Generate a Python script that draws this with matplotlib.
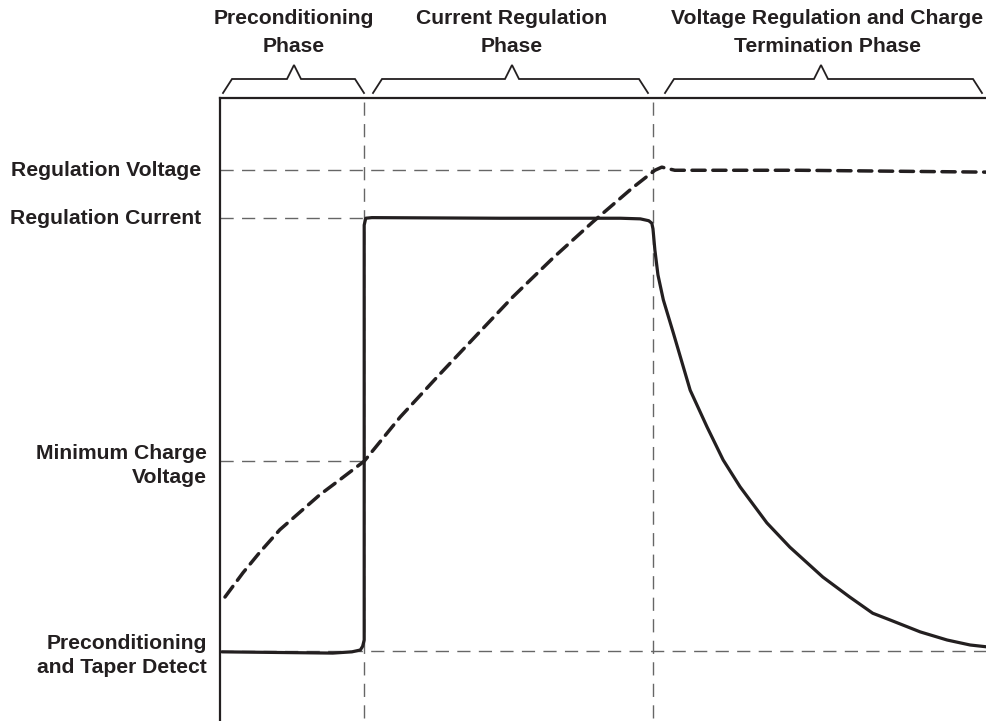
import matplotlib
matplotlib.use("Agg")
import matplotlib.pyplot as plt
from matplotlib.lines import Line2D

# ---------------- data (time in % of plot width, level in % of plot height) ----
phase_bounds = [18.8, 56.5]
levels = {
    "Regulation Voltage": 88.4,
    "Regulation Current": 80.7,
    "Minimum Charge\nVoltage": 41.7,
    "Preconditioning\nand Taper Detect": 11.2,
}
phase_titles = ["Preconditioning\nPhase", "Current Regulation\nPhase",
                "Voltage Regulation and Charge\nTermination Phase"]

volt_t = [0.65, 3.0, 5.2, 7.8, 10.4, 13.0, 15.6, 17.3, 18.8, 23.5, 28.3, 33.2,
          38.2, 43.4, 48.6, 53.8, 56.7, 57.6, 59.3, 75.6, 100.0]
volt_v = [19.9, 23.8, 27.1, 30.7, 33.5, 36.3, 38.7, 40.3, 41.7, 48.8, 55.2, 61.6,
          68.1, 74.3, 80.1, 85.6, 88.4, 88.9, 88.4, 88.4, 88.1]

curr_t = [0.26, 14.7, 17.2, 18.3, 18.6, 18.8, 18.8, 19.0, 19.8, 36.5, 52.2, 54.8,
          55.9, 56.3, 56.45, 56.7, 57.1, 57.8, 59.1, 61.3, 63.5, 65.6, 67.8, 71.3,
          74.3, 78.6, 82.1, 85.1, 87.4, 91.3, 94.8, 97.8, 100.0]
curr_v = [11.1, 10.9, 11.1, 11.4, 12.0, 13.0, 79.6, 80.7, 80.8, 80.7, 80.7, 80.6,
          80.3, 79.9, 79.0, 75.6, 71.6, 67.6, 62.3, 53.1, 47.2, 41.9, 37.6, 31.8,
          27.9, 23.1, 19.9, 17.3, 16.2, 14.3, 13.0, 12.2, 11.9]

# ---------------- figure ----------------
W, H = 987, 721
fig = plt.figure(figsize=(W / 100, H / 100), dpi=100)
plt.rcParams['lines.scale_dashes'] = False
FONT = ['Liberation Sans', 'Arial', 'DejaVu Sans']
ink = '#231f20'
grey = '#666666'
FS = 15.2

ax_l, ax_r, ax_t, ax_b = 220, 987, 98, 721
ax = fig.add_axes([ax_l / W, 1 - ax_b / H, (ax_r - ax_l) / W, (ax_b - ax_t) / H])
ax.set_xlim(0, 100)
ax.set_ylim(0, 100)
ax.set_xticks([])
ax.set_yticks([])
for s in ['right', 'bottom']:
    ax.spines[s].set_visible(False)
for s in ['left', 'top']:
    ax.spines[s].set_linewidth(1.6)
    ax.spines[s].set_color(ink)

ref_dash = (9.5, 6.0)
lv = list(levels.values())
# horizontal reference lines
ax.plot([0, phase_bounds[1]], [lv[0], lv[0]], color=grey, lw=1.0, dashes=ref_dash)
ax.plot([0, phase_bounds[0]], [lv[1], lv[1]], color=grey, lw=1.0, dashes=ref_dash)
ax.plot([0, phase_bounds[0]], [lv[2], lv[2]], color=grey, lw=1.0, dashes=ref_dash)
ax.plot([0, 100], [lv[3], lv[3]], color=grey, lw=1.0, dashes=ref_dash)
# vertical phase boundaries
for b in phase_bounds:
    ax.plot([b, b], [0.5, 100], color=grey, lw=1.0, dashes=ref_dash)

# curves
ax.plot(volt_t, volt_v, color=ink, lw=2.5, dashes=(9.5, 5.5),
        solid_capstyle='round', dash_capstyle='round', solid_joinstyle='round',
        dash_joinstyle='round', clip_on=False)
ax.plot(curr_t, curr_v, color=ink, lw=2.3, solid_joinstyle='round',
        solid_capstyle='round', clip_on=False)

# left labels
for name, v in levels.items():
    y = ax.transData.transform((0, v))[1]
    multi = "\n" in name
    dy = 4.5 if multi else 0
    fig.text(207 / W if multi else 201 / W, (y - dy) / H, name,
             ha='right', va='center', fontsize=FS, fontweight='bold',
             family=FONT, color=ink, linespacing=1.36)

# braces
def brace(x0, x1, xp):
    yb, yt, yp = 93, 79, 65
    xs = [x0, x0 + 9, xp - 7, xp, xp + 7, x1 - 9, x1]
    ys = [yb, yt, yt, yp, yt, yt, yb]
    fig.add_artist(Line2D([x / W for x in xs], [1 - y / H for y in ys],
                          color=ink, lw=1.3, solid_joinstyle='miter'))

brace(223, 364, 294)
brace(373, 648, 512)
brace(665, 982, 821)

for title, xc in zip(phase_titles, [294, 512, 827]):
    fig.text(xc / W, 1 - 32.5 / H, title, ha='center', va='center', fontsize=FS,
             fontweight='bold', family=FONT, color=ink, linespacing=1.62)

fig.savefig("out.png", dpi=100, facecolor='white')
